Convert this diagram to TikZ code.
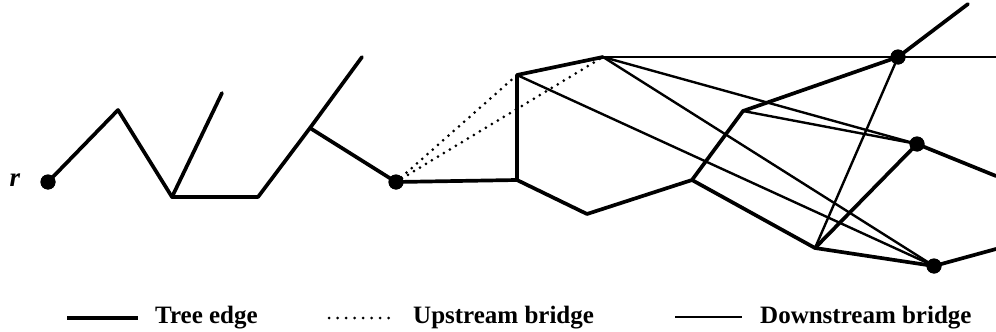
\documentclass[tikz,border=0pt]{standalone}
\usepackage{fontspec}
\setmainfont{Liberation Serif}
\begin{document}
\begin{tikzpicture}[x=1pt,y=-1pt,
  tree/.style={line width=3.7pt, line join=round, line cap=round},
  downbr/.style={line width=2.4pt, line cap=round},
  upbr/.style={line width=3pt, line cap=round, dash pattern=on 0pt off 7pt},
  vdot/.style={circle, fill=black, inner sep=0pt, minimum size=15pt},
  pt/.style={coordinate},
  legtext/.style={anchor=base west, inner sep=0pt, font=\bfseries\fontsize{25}{30}\selectfont}]
\useasboundingbox (0,0) rectangle (996,332);
% vertices
\node[vdot] (R) at (48,182) {};
\node[pt] (P1) at (118,110) {};
\node[pt] (P2) at (172,197) {};
\node[pt] (P3) at (222,93) {};
\node[pt] (P4) at (258,197) {};
\node[pt] (P5) at (310,128) {};
\node[pt] (P6) at (362,57) {};
\node[vdot] (V) at (396,182) {};
\node[pt] (C) at (517,180) {};
\node[pt] (A) at (517,75) {};
\node[pt] (B) at (603,57) {};
\node[pt] (D) at (587,214) {};
\node[pt] (E) at (692,180) {};
\node[pt] (F) at (743,111) {};
\node[vdot] (G) at (898,57) {};
\node[pt] (G2) at (968,4) {};
\node[pt] (Gr) at (996,57) {};
\node[vdot] (H) at (917,144) {};
\node[pt] (Hr) at (996,176) {};
\node[pt] (I) at (815,248) {};
\node[vdot] (J) at (934,266) {};
\node[pt] (Jr) at (996,249) {};
\node[anchor=center, inner sep=0pt, font=\bfseries\itshape\fontsize{27}{30}\selectfont] (rl) at (15,180) {r};
% downstream bridges
\draw[downbr] (B) -- (G.center);
\draw[downbr] (B) -- (H.center);
\draw[downbr] (B) -- (J.center);
\draw[downbr] (A) -- (J.center);
\draw[downbr] (F) -- (H.center);
\draw[downbr] (I) -- (G.center);
% upstream bridges
\draw[upbr] (V.center) -- (A);
\draw[upbr] (V.center) -- (B);
% tree edges
\draw[tree] (R.center) -- (P1) -- (P2) -- (P4) -- (P5) -- (P6);
\draw[tree] (P2) -- (P3);
\draw[tree] (P5) -- (V.center) -- (C) -- (A) -- (B);
\draw[tree] (C) -- (D) -- (E) -- (F) -- (G.center) -- (G2);
\draw[tree] (E) -- (I) -- (H.center) -- (Hr);
\draw[tree] (I) -- (J.center) -- (Jr);
\draw[line width=2.9pt] (G.center) -- (Gr);
% redraw dots on top
\node[vdot] at (R) {};
\node[vdot] at (V) {};
\node[vdot] at (G) {};
\node[vdot] at (H) {};
\node[vdot] at (J) {};
% legend
\node[pt] (l1a) at (67,318) {};
\node[pt] (l1b) at (138,318) {};
\draw[tree, line cap=butt] (l1a) -- (l1b);
\node[legtext] (t1) at (155,323) {Tree edge};
\node[pt] (l2a) at (329,318) {};
\node[pt] (l2b) at (389,318) {};
\draw[upbr, dash pattern=on 0pt off 8.5pt] (l2a) -- (l2b);
\node[legtext] (t2) at (413,323) {Upstream bridge};
\node[pt] (l3a) at (675,317) {};
\node[pt] (l3b) at (742,317) {};
\draw[downbr, line cap=butt] (l3a) -- (l3b);
\node[legtext] (t3) at (760,323) {Downstream bridge};
\end{tikzpicture}
\end{document}
